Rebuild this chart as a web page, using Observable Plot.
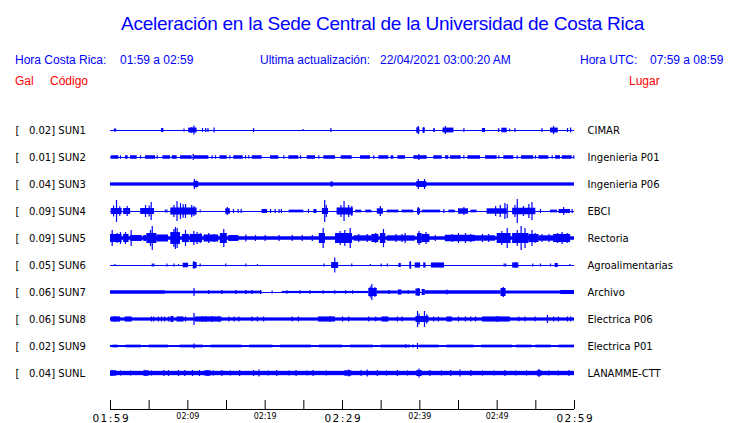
<!DOCTYPE html>
<html><head><meta charset="utf-8">
<script src="https://cdn.jsdelivr.net/npm/d3@7"></script>
<script src="https://cdn.jsdelivr.net/npm/@observablehq/plot@0.6"></script>
<style>
body{margin:0;background:#fff;}
#page{position:relative;width:740px;height:423px;overflow:hidden;background:#fff;}
#head{position:relative;height:110px;font-family:"Liberation Sans",Arial,sans-serif;}
#head div{position:absolute;white-space:pre;line-height:1;}
.t{font-size:19px;letter-spacing:-0.25px;color:#0000ff;}
.h{font-size:12px;color:#0000ff;}
.r{font-size:12px;color:#ff0000;}
#chart svg{display:block;overflow:visible;}
#chart svg text{white-space:pre;}
#chart svg g[font-size="10.5"] text{letter-spacing:1.5px;}
</style></head>
<body><div id="page"><div id="head">
<div class="t" style="left:121px;top:14px">Aceleración en la Sede Central de la Universidad de Costa Rica</div>
<div class="h" style="left:15px;top:54px">Hora Costa Rica:</div>
<div class="h" style="left:120px;top:54px">01:59 a 02:59</div>
<div class="h" style="left:260px;top:54px">Ultima actualización:</div>
<div class="h" style="left:380px;top:54px">22/04/2021 03:00:20 AM</div>
<div class="h" style="left:580px;top:54px">Hora UTC:</div>
<div class="h" style="left:650px;top:54px">07:59 a 08:59</div>
<div class="r" style="left:15px;top:75px">Gal</div>
<div class="r" style="left:50px;top:75px">Código</div>
<div class="r" style="left:629px;top:75px">Lugar</div>
</div><div id="chart"></div></div>
<script>
// ---- data ----
const stations = ["SUN1","SUN2","SUN3","SUN4","SUN5","SUN6","SUN7","SUN8","SUN9","SUNL"];
const scales = ["0.02","0.01","0.04","0.09","0.09","0.05","0.06","0.06","0.02","0.04"];
const places = ["CIMAR","Ingenieria P01","Ingenieria P06","EBCI","Rectoria","Agroalimentarias","Archivo","Electrica P06","Electrica P01","LANAMME-CTT"];
// minutes after 01:59
const timeSpan = [0, 60];
const tickMinutes = [0,5,10,15,20,25,30,35,40,45,50,55,60];
const majorTicks = [0, 30, 60];
const majorLabels = ["01:59","02:29","02:59"];
const minorTicks = [10, 20, 40, 50];
const minorLabels = ["02:09","02:19","02:39","02:49"];
// background noise half-amplitude (fraction of trace full scale)
const baseline = [0, 0, 0.12, 0, 0.13, 0, 0, 0.12, 0.07, 0.16];

// noisy segments: [start min, end min, half-amplitude]
const blocksSUN1 = [[0.5,0.8,.11],[6.6,6.9,.15],[10.1,11.2,.18],[39.6,40.0,.2],[40.4,40.7,.17],[41.8,42.0,.15],[43.0,44.4,.18],[48.1,48.5,.15],[50.6,51.3,.17],[56.9,57.9,.18]];
const blocksSUN2 = [[0.09,1.08,.13],[1.94,2.28,.13],[2.59,3.45,.13],[4.53,5.82,.13],[6.77,7.76,.13],[7.97,8.62,.13],[9.05,10.56,.13],[10.78,12.72,.13],[14.14,15.09,.13],[15.95,17.16,.13],[18.32,19.61,.13],[20.69,21.77,.13],[23.06,24.35,.13],[25.43,26.51,.13],[27.59,29.09,.13],[29.83,31.25,.13],[32.33,33.62,.13],[34.70,35.99,.13],[36.29,36.64,.13],[37.16,38.15,.13],[39.22,40.95,.13],[41.81,42.89,.13],[43.32,43.75,.13],[43.97,45.34,.13],[46.21,47.84,.13],[48.49,50.0,.13],[50.86,52.16,.13],[53.15,54.74,.13],[55.39,56.68,.13],[57.54,58.19,.13],[58.41,59.70,.13]];
const blocksSUN3 = [[10.8,11.4,.22],[28.5,28.8,.19],[39.6,40.9,.22]];
const blocksSUN4 = [[0.1,1.5,.22],[1.7,2.6,.22],[3.9,5.7,.22],[7.8,11.2,.26],[14.9,15.5,.2],[19.6,20.3,.15],[23.1,25.0,.1],[26.3,26.7,.15],[27.4,28.2,.22],[29.3,31.4,.26],[31.7,32.5,.1],[33.0,33.8,.1],[34.5,35.3,.2],[35.8,37.3,.1],[37.7,39.2,.1],[39.7,40.1,.2],[40.3,42.7,.1],[43.75,44.6,.1],[45.0,46.3,.2],[46.6,47.4,.1],[48.7,51.3,.2],[52.0,55.0,.24],[56.9,57.8,.1],[58.0,59.5,.15]];
const blocksSUN5 = [[0,1.5,.3],[1.7,2.4,.3],[2.6,4.1,.22],[4.3,4.7,.22],[4.7,6.0,.37],[6.0,7.5,.26],[7.8,9.05,.44],[9.3,10.2,.3],[10.3,11.9,.3],[12.1,14.0,.26],[14.2,15.1,.37],[15.3,16.6,.22],[27.0,27.8,.37],[29.1,31.3,.37],[31.5,33.8,.2],[33.8,34.7,.3],[34.9,35.6,.37],[35.8,39.4,.2],[39.7,40.3,.37],[40.3,41.3,.3],[43.3,47.2,.24],[47.2,49.8,.2],[50.0,51.8,.37],[52.0,54.1,.37],[54.1,55.4,.3],[55.4,57.3,.2],[57.3,59.5,.3]];
const blocksSUN6 = [[9.4,10.1,.15],[10.7,11.2,.22],[28.6,29.5,.22],[37.3,37.6,.15],[38.7,38.9,.26],[39.4,40.1,.19],[40.5,40.8,.19],[41.5,43.2,.19],[52.0,52.8,.19],[57.5,57.9,.15]];
const blocksSUN7 = [[0,7.1,.13],[7.1,19.6,.1],[22.2,33.4,.08],[33.4,34.5,.3],[34.5,37.2,.11],[37.2,37.7,.19],[37.7,39.5,.11],[39.5,40.1,.26],[40.3,40.7,.22],[40.7,43.5,.13],[43.5,50.5,.13],[50.5,51.1,.3],[51.1,58.2,.11],[58.2,60,.15]];
const blocksSUN8 = [[0.1,1.3,.19],[1.9,2.8,.19],[7.8,8.2,.22],[8.6,9.5,.19],[11.0,14.4,.19],[26.9,29.1,.19],[35.1,36.0,.19],[39.5,41.2,.22],[43.5,44.2,.19],[48.1,51.7,.19]];
const blocksSUN9 = [[0.3,1.0,.1],[2.0,4.0,.1],[5.0,7.5,.1],[9.0,12.0,.1],[13.0,17.0,.1],[18.0,21.0,.1],[22.0,26.0,.1],[27.0,30.0,.1],[31.0,34.0,.1],[35.0,38.5,.1],[40.0,42.5,.1],[43.5,47.0,.1],[48.0,52.0,.1],[52.5,54.5,.1],[55.0,57.0,.1],[58.0,60,.1]];
const blocksSUNL = [[0,0.8,.2],[4.3,5.0,.2],[12.2,13.0,.2],[30.3,31.2,.2],[39.6,40.3,.22],[55.2,55.8,.2]];

// single peaks: [minute, half-amplitude]
const spikesSUN1 = [[9.5,.11],[10.5,.22],[10.8,.33],[11.9,.15],[12.3,.15],[12.6,.15],[13.4,.18],[18.5,.15],[24.9,.08],[28.5,.15],[39.8,.3],[40.5,.22],[43.3,.3],[45.7,.15],[50.2,.15],[51.6,.11],[52.3,.15],[55.8,.15],[57.3,.3],[59.1,.15],[59.5,.18]];
const spikesSUN2 = [[1.29,.13],[3.88,.13],[6.03,.13],[10.69,.22],[13.15,.13],[13.58,.13],[15.43,.13],[17.46,.13],[17.89,.13],[22.41,.13],[24.57,.13],[26.94,.13],[34.05,.13],[39.87,.22],[45.69,.13],[50.22,.13],[52.59,.13],[54.96,.13],[57.11,.13],[59.91,.13]];
const spikesSUN3 = [[10.85,.37],[11.1,.26],[39.8,.37],[40.6,.37]];
const spikesSUN4 = [[0.4,.4],[0.78,.81],[1.2,.35],[2.16,.37],[4.53,.44],[5.0,.4],[5.26,.67],[7.1,.11],[7.3,.11],[8.2,.45],[8.6,.74],[9.05,.59],[9.4,.5],[9.7,.52],[10.5,.44],[10.8,.37],[11.6,.11],[15.1,.3],[15.9,.15],[16.5,.15],[16.9,.15],[20.7,.15],[21.3,.15],[21.8,.15],[22.1,.15],[25.6,.15],[27.7,.81],[27.9,.45],[29.8,.45],[30.2,.74],[30.8,.44],[31.2,.37],[34.9,.37],[39.8,.3],[43.1,.15],[45.7,.3],[49.8,.37],[50.4,.44],[51.0,.59],[51.3,.52],[52.3,.45],[52.6,.89],[53.4,.37],[54.1,.52],[54.5,.67],[55.6,.15],[58.6,.3],[59.7,.15]];
const spikesSUN5 = [[0.22,.59],[0.86,.37],[1.29,.44],[1.94,.44],[2.67,.59],[5.17,.59],[5.4,.89],[8.2,.67],[8.4,.81],[8.62,.74],[9.7,.59],[10.78,.52],[11.2,.44],[11.6,.37],[12.7,.37],[13.4,.3],[14.65,.67],[17.5,.26],[18.75,.22],[20.0,.22],[21.8,.22],[23.5,.22],[24.8,.22],[26.1,.22],[27.5,.74],[29.7,.52],[30.3,.59],[31.0,.74],[32.1,.3],[33.2,.3],[34.3,.37],[35.3,.67],[36.9,.3],[37.7,.3],[38.1,.37],[39.9,.52],[40.8,.44],[42.0,.22],[44.2,.3],[45.0,.37],[45.9,.37],[46.6,.3],[48.1,.3],[48.9,.3],[50.6,.52],[51.3,.74],[52.6,.59],[53.1,.89],[53.6,.74],[54.5,.59],[54.9,.37],[55.8,.3],[56.7,.3],[57.8,.37],[58.4,.44],[59.05,.37]];
const spikesSUN6 = [[0.56,.07],[5.4,.11],[5.6,.11],[7.3,.11],[8.2,.11],[8.8,.07],[9.5,.19],[9.8,.19],[10.8,.3],[11.6,.11],[14.9,.11],[17.5,.11],[19.0,.07],[27.6,.11],[29.0,.56],[31.2,.11],[33.6,.07],[35.0,.11],[35.8,.11],[38.8,.26],[50.9,.11],[51.1,.11],[52.4,.22],[54.6,.11],[55.6,.11],[56.9,.11],[59.4,.07]];
const spikesSUN7 = [[10.8,.3],[12.7,.15],[14.4,.15],[16.2,.15],[17.5,.15],[18.3,.15],[19.4,.15],[20.9,.11],[22.8,.13],[24.5,.13],[25.8,.13],[27.5,.13],[29.0,.13],[30.4,.13],[31.3,.13],[33.6,.4],[33.8,.59],[34.2,.35],[36.0,.15],[38.5,.13],[39.8,.3],[43.5,.19],[50.8,.37],[51.0,.3]];
const spikesSUN8 = [[0.6,.22],[5.3,.19],[5.6,.19],[6.2,.19],[6.6,.19],[7.0,.19],[7.5,.19],[9.7,.19],[10.8,.44],[11.9,.22],[12.3,.22],[13.1,.22],[14.0,.22],[15.3,.19],[16.0,.19],[16.6,.19],[18.3,.19],[19.0,.19],[19.8,.19],[23.5,.19],[24.3,.19],[28.4,.22],[30.0,.19],[30.8,.19],[33.4,.19],[34.3,.19],[37.1,.19],[37.7,.19],[39.7,.59],[39.9,.4],[40.6,.59],[40.9,.35],[41.8,.19],[42.4,.19],[45.0,.19],[45.9,.19],[46.6,.19],[47.2,.19],[50.0,.22],[52.8,.19],[53.6,.19],[54.9,.19],[56.5,.3],[57.3,.19],[57.9,.19],[59.1,.19],[59.5,.19]];
const spikesSUN9 = [[10.8,.19],[38.2,.13],[38.6,.13],[39.1,.13],[39.7,.22]];
const spikesSUNL = [[0.2,.22],[1.3,.19],[2.6,.19],[4.5,.22],[5.3,.19],[6.9,.22],[7.5,.22],[8.8,.22],[9.6,.22],[10.6,.22],[11.5,.22],[12.6,.22],[13.3,.19],[14.4,.22],[15.5,.19],[16.7,.22],[18.5,.22],[19.2,.26],[20.4,.19],[21.5,.22],[23.1,.19],[24.0,.22],[25.4,.19],[26.2,.22],[27.9,.19],[30.8,.26],[32.4,.22],[33.2,.26],[34.5,.22],[35.7,.19],[37.1,.22],[38.4,.19],[39.9,.33],[41.3,.22],[42.8,.19],[44.0,.22],[45.2,.26],[46.6,.22],[48.1,.19],[49.6,.19],[51.0,.22],[52.4,.19],[53.8,.19],[55.4,.3],[56.7,.19],[57.9,.19],[59.3,.22]];

// ---- build tables ----
const blockSets = [blocksSUN1,blocksSUN2,blocksSUN3,blocksSUN4,blocksSUN5,blocksSUN6,blocksSUN7,blocksSUN8,blocksSUN9,blocksSUNL];
const spikeSets = [spikesSUN1,spikesSUN2,spikesSUN3,spikesSUN4,spikesSUN5,spikesSUN6,spikesSUN7,spikesSUN8,spikesSUN9,spikesSUNL];
const blocks = [];
const spikes = [];
stations.forEach((s, i) => {
  if (baseline[i] > 0) blocks.push({station: s, t0: timeSpan[0], t1: timeSpan[1], a: baseline[i]});
  blockSets[i].forEach(([t0, t1, a]) => blocks.push({station: s, t0, t1, a}));
  spikeSets[i].forEach(([t, a]) => spikes.push({station: s, t, a}));
});
const last = stations[stations.length - 1];
const blue = "#0000ff";

const chart = Plot.plot({
  width: 740, height: 313,
  marginTop: 6.5, marginBottom: 36.5, marginLeft: 110, marginRight: 166,
  style: {fontFamily: "'DejaVu Sans', sans-serif", fontSize: "10px", color: "black", background: "white"},
  x: {domain: timeSpan, axis: null},
  y: {domain: [-1, 1], axis: null},
  fy: {domain: stations, padding: 0, round: false, axis: null},
  marks: [
    Plot.ruleY(stations, {y: () => 0, fy: d => d, stroke: blue, strokeWidth: 1}),
    Plot.rect(blocks, {x1: "t0", x2: "t1", y1: d => -d.a, y2: "a", fy: "station", fill: blue}),
    Plot.ruleX(spikes, {x: "t", y1: d => -d.a, y2: "a", fy: "station", stroke: blue, strokeWidth: 1.2}),
    Plot.text(stations, {fy: d => d, frameAnchor: "left", dx: -95, textAnchor: "start",
      text: (d, i) => `[   ${scales[i]}] ${d}`, fill: "black", fontSize: 10}),
    Plot.text(stations, {fy: d => d, frameAnchor: "right", dx: 13, textAnchor: "start",
      text: (d, i) => places[i], fill: "black", fontSize: 10}),
    // time axis
    Plot.ruleY([-1], {fy: () => last, dy: 22.5, stroke: "black"}),
    Plot.ruleX(tickMinutes, {x: d => d, fy: () => last, insetTop: 18, dy: 22.5, stroke: "black"}),
    Plot.text(majorTicks, {x: d => d, fy: () => last, frameAnchor: "bottom", lineAnchor: "middle", dy: 31.5, dx: 0.75,
      text: (d, i) => majorLabels[i], fontSize: 10.5, fill: "black"}),
    Plot.text(minorTicks, {x: d => d, fy: () => last, frameAnchor: "bottom", lineAnchor: "middle", dy: 29.5,
      text: (d, i) => minorLabels[i], fontSize: 8, fill: "black"})
  ]
});
document.getElementById("chart").appendChild(chart);
</script>
</body></html>
